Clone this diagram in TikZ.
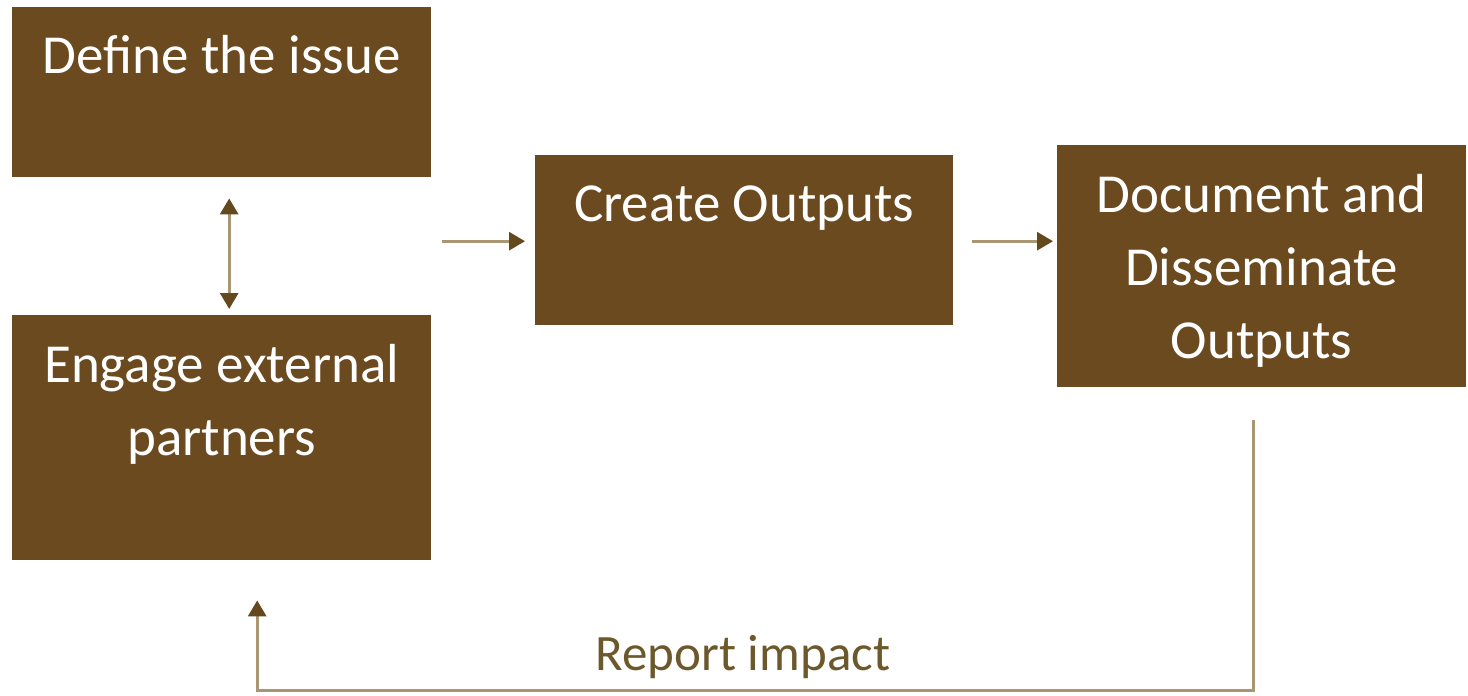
\documentclass[tikz,border=0pt]{standalone}
\usepackage{fontspec}
\setmainfont{Carlito}
\usetikzlibrary{arrows.meta,calc}
\definecolor{boxbrown}{RGB}{107,74,32}
\definecolor{linetan}{RGB}{170,150,114}
\definecolor{headbrown}{RGB}{100,72,30}
\definecolor{labelbrown}{RGB}{108,88,42}
\begin{document}
\begin{tikzpicture}[x=1pt,y=-1pt,
  box/.style={draw=none,fill=boxbrown,anchor=north west,inner sep=0pt},
  boxtext/.style={text=white,font=\fontsize{55}{73}\selectfont,align=center,anchor=base,inner sep=0pt},
  link/.style={draw=linetan,line width=3pt,-{Triangle[width=18pt,length=16pt,color=headbrown]}},
  dlink/.style={draw=linetan,line width=3pt,{Triangle[width=18pt,length=16pt,color=headbrown]}-{Triangle[width=18pt,length=16pt,color=headbrown]}},
]
\fill[white] (0,0) rectangle (1468,696);
\useasboundingbox (0,0) rectangle (1468,696);

\node[box,minimum width=419pt,minimum height=170pt] (define) at (12,7) {};
\node[box,minimum width=419pt,minimum height=245pt] (engage) at (12,315) {};
\node[box,minimum width=418pt,minimum height=170pt] (create) at (535,155) {};
\node[box,minimum width=409pt,minimum height=242pt] (doc) at (1057,145) {};

% anchor=base is the baseline of the last line
\node[boxtext] (definet) at ($(define.north)+(0,66)$) {Define the issue};
\node[boxtext] (engaget) at ($(engage.north)+(0,67+73)$) {Engage external\\partners};
\node[boxtext] (createt) at ($(create.north)+(0,66)$) {Create Outputs};
\node[boxtext] (doct) at ($(doc.north)+(0,67+146)$) {Document and\\Disseminate\\Outputs};

\draw[dlink] ($(define.south)+(7.5,21)$) -- ($(engage.north)+(7.5,-6)$);
\draw[link] ($(create.west)+(-93,1)$) -- ($(create.west)+(-10,1)$);
\draw[link] ($(doc.west)+(-85,-25)$) -- ($(doc.west)+(-4,-25)$);

\coordinate (fbstart) at ($(doc.south)+(-8.5,33)$);
\coordinate (fbend) at ($(engage.south)+(35.5,40)$);
\draw[link] (fbstart) -- ++(0,270) -| (fbend);

\node[font=\fontsize{51}{60}\selectfont,text=labelbrown,anchor=base,inner sep=0pt] (report) at (743,670) {Report impact};
\end{tikzpicture}
\end{document}
